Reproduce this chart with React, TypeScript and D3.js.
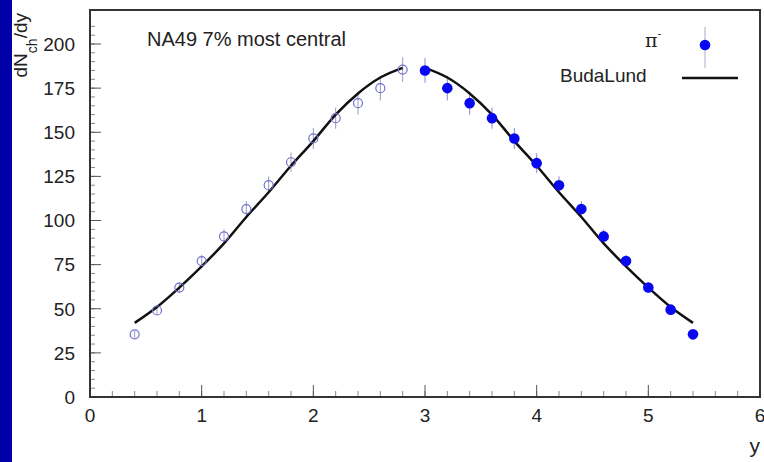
import React from "react";
import * as d3 from "d3";

// Measured data (NA49 pi-, 7% most central)
const openY = [0.4, 0.6, 0.8, 1.0, 1.2, 1.4, 1.6, 1.8, 2.0, 2.2, 2.4, 2.6, 2.8];
const openVal = [35.5, 49, 62, 77, 91, 106.5, 120, 133, 146.5, 158, 166.5, 175, 185.5];
const filledY = [3.0, 3.2, 3.4, 3.6, 3.8, 4.0, 4.2, 4.4, 4.6, 4.8, 5.0, 5.2, 5.4];
const filledVal = [185, 175, 166.5, 158, 146.5, 132.5, 120, 106.5, 91, 77, 62, 49.5, 35.5];
const errVal = [7, 7, 6.5, 6, 6, 5.5, 5, 4.5, 4, 3.5, 3, 2.5, 2];

// BudaLund fit curve (two branches)
const fitLeftY = [0.4, 0.6, 0.8, 1.0, 1.2, 1.4, 1.6, 1.8, 2.0, 2.2, 2.4, 2.6, 2.8];
const fitLeftVal = [42, 51, 62, 74, 87, 102, 116, 131, 145, 160, 172, 181, 186.5];
const fitRightY = [3.0, 3.2, 3.4, 3.6, 3.8, 4.0, 4.2, 4.4, 4.6, 4.8, 5.0, 5.2, 5.4];
const fitRightVal = [186.5, 181, 172, 160, 145, 131, 116, 102, 87, 74, 62, 51, 42];

const xTicks = [0, 1, 2, 3, 4, 5, 6];
const yTicks = [0, 25, 50, 75, 100, 125, 150, 175, 200];

const W = 764;
const H = 462;
const FONT = "'Liberation Sans', Arial, Helvetica, sans-serif";

export default function App() {
  const x = d3.scaleLinear().domain([0, 6]).range([90, 760]);
  const y = d3.scaleLinear().domain([0, 200]).range([397, 44]);
  const top = 10;

  const line = d3
    .line<[number, number]>()
    .x((d) => x(d[0]))
    .y((d) => y(d[1]))
    .curve(d3.curveMonotoneX);

  const leftPts = fitLeftY.map((v, i) => [v, fitLeftVal[i]] as [number, number]);
  const rightPts = fitRightY.map((v, i) => [v, fitRightVal[i]] as [number, number]);

  const xMinor = d3.range(0, 6.0001, 0.2);
  const yMinor = d3.range(0, 215, 5);

  const openErr = [...errVal].reverse();

  return (
    <svg
      width={W}
      height={H}
      style={{ position: "absolute", left: 0, top: 0, background: "#fff" }}
      fontFamily={FONT}
    >
      <rect x={0} y={0} width={W} height={H} fill="#fff" />
      <rect x={0} y={0} width={12} height={H} fill="#0000a8" />

      {/* minor ticks */}
      {xMinor.map((t, i) => (
        <line key={"xm" + i} x1={x(t)} x2={x(t)} y1={y(0)} y2={y(0) - 6} stroke="#888" strokeWidth={1} />
      ))}
      {yMinor.map((t, i) => (
        <line key={"ym" + i} x1={x(0)} x2={x(0) + 5} y1={y(t)} y2={y(t)} stroke="#888" strokeWidth={1} />
      ))}
      {/* major ticks */}
      {xTicks.map((t) => (
        <line key={"xM" + t} x1={x(t)} x2={x(t)} y1={y(0)} y2={y(0) - 12} stroke="#555" strokeWidth={1} />
      ))}
      {yTicks.map((t) => (
        <line key={"yM" + t} x1={x(0)} x2={x(0) + 11} y1={y(t)} y2={y(t)} stroke="#555" strokeWidth={1} />
      ))}

      {/* frame */}
      <rect
        x={x(0)}
        y={top}
        width={x(6) - x(0)}
        height={y(0) - top}
        fill="none"
        stroke="#333"
        strokeWidth={2}
      />

      {/* tick labels */}
      {xTicks.map((t) => (
        <text key={"xl" + t} x={x(t)} y={y(0) + 25} fontSize={19} textAnchor="middle" fill="#222">
          {t}
        </text>
      ))}
      {yTicks.map((t) => (
        <text key={"yl" + t} x={75} y={y(t)} dy="0.36em" fontSize={19} textAnchor="end" fill="#222">
          {t}
        </text>
      ))}

      {/* axis titles */}
      <text x={760} y={453} fontSize={21} textAnchor="end" fill="#222">
        y
      </text>
      <text transform="translate(27,13) rotate(-90)" fontSize={19} textAnchor="end" fill="#222">
        dN
        <tspan fontSize={14} dy={10}>
          ch
        </tspan>
        <tspan dy={-10}>/dy</tspan>
      </text>

      {/* title */}
      <text x={147} y={46} fontSize={20} fill="#222">
        NA49 7% most central
      </text>

      {/* error bars */}
      {openY.map((v, i) => (
        <line
          key={"oe" + i}
          x1={x(v)}
          x2={x(v)}
          y1={y(openVal[i] - openErr[i])}
          y2={y(openVal[i] + openErr[i])}
          stroke="#9a9ac8"
          strokeWidth={1}
        />
      ))}
      {filledY.map((v, i) => (
        <line
          key={"fe" + i}
          x1={x(v)}
          x2={x(v)}
          y1={y(filledVal[i] - errVal[i])}
          y2={y(filledVal[i] + errVal[i])}
          stroke="#8888d8"
          strokeWidth={1}
        />
      ))}

      {/* fit curve */}
      <path d={line(leftPts) || ""} fill="none" stroke="#111" strokeWidth={2.5} />
      <path d={line(rightPts) || ""} fill="none" stroke="#111" strokeWidth={2.5} />

      {/* markers */}
      {openY.map((v, i) => (
        <circle key={"o" + i} cx={x(v)} cy={y(openVal[i])} r={4.5} fill="none" stroke="#7070cc" strokeWidth={1.2} />
      ))}
      {filledY.map((v, i) => (
        <circle key={"f" + i} cx={x(v)} cy={y(filledVal[i])} r={5.3} fill="#0808f0" />
      ))}

      {/* legend */}
      <text x={645} y={47} fontSize={19} fill="#222" fontFamily="'DejaVu Serif', serif">
        π
        <tspan fontSize={11} dy={-9}>
          -
        </tspan>
      </text>
      <line x1={705} x2={705} y1={27} y2={68} stroke="#aaaacc" strokeWidth={1} />
      <circle cx={705} cy={45} r={5.3} fill="#0808f0" />
      <text x={560} y={82} fontSize={19} fill="#222">
        BudaLund
      </text>
      <line x1={682} x2={738} y1={78} y2={78} stroke="#111" strokeWidth={2.5} />
    </svg>
  );
}
